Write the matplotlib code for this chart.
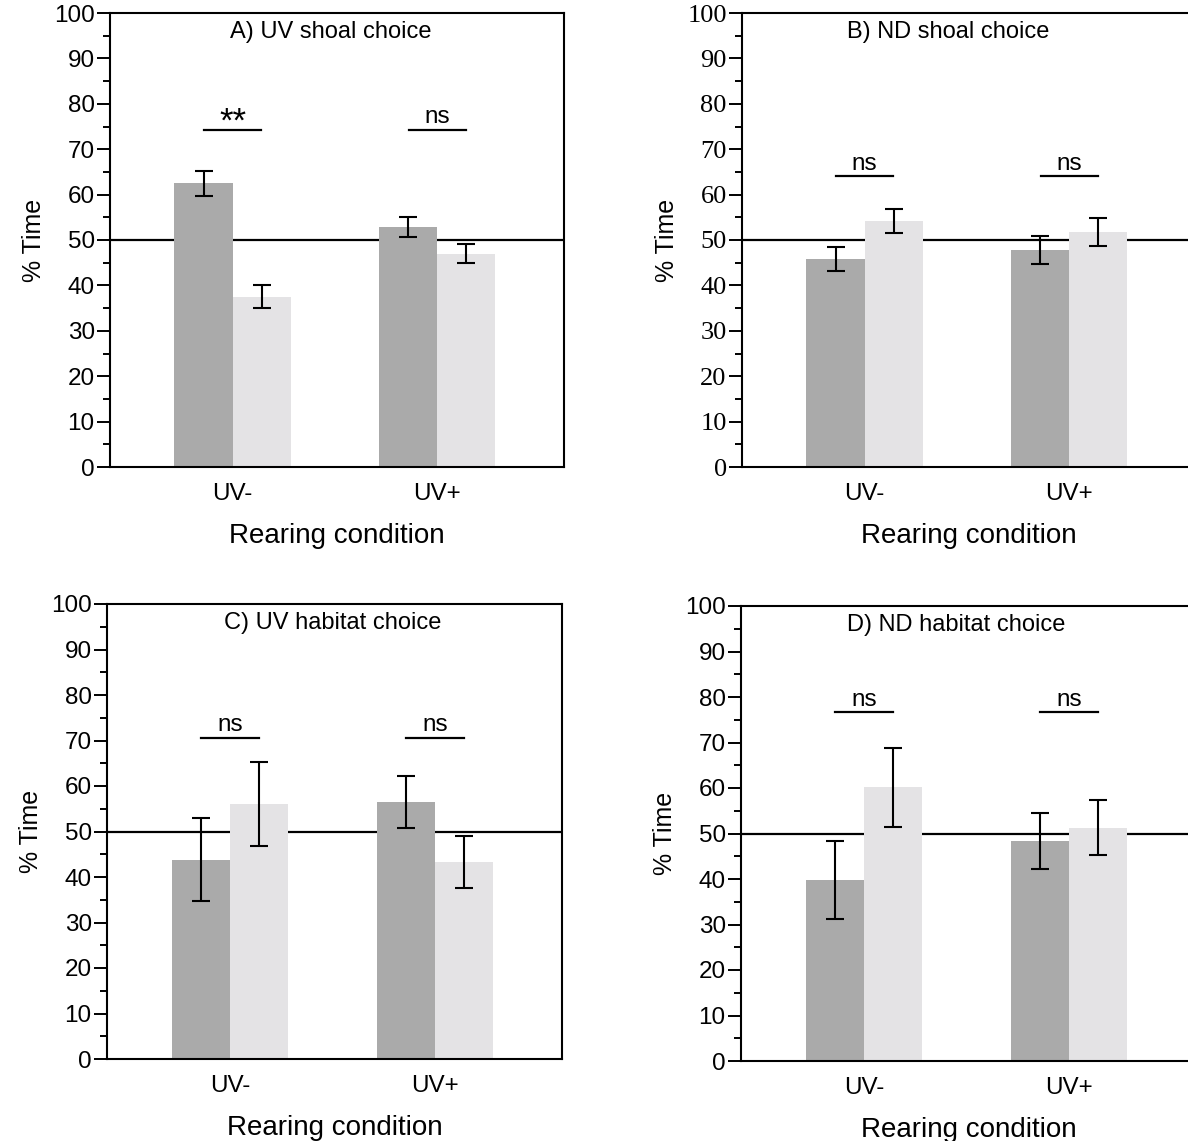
import matplotlib
matplotlib.use('Agg')
import matplotlib.pyplot as plt
import numpy as np

groups = ['UV-', 'UV+']
titles = ['A) UV shoal choice', 'B) ND shoal choice', 'C) UV habitat choice', 'D) ND habitat choice']

## dark bars (first stimulus) and light bars (second stimulus), % time
dark_A = [62.5, 52.8]
dark_A_err = [2.7, 2.2]
light_A = [37.5, 47.0]
light_A_err = [2.5, 2.1]

dark_B = [45.8, 47.8]
dark_B_err = [2.6, 3.0]
light_B = [54.2, 51.8]
light_B_err = [2.7, 3.1]

dark_C = [43.8, 56.5]
dark_C_err = [9.1, 5.8]
light_C = [56.0, 43.3]
light_C_err = [9.2, 5.8]

dark_D = [39.7, 48.3]
dark_D_err = [8.6, 6.1]
light_D = [60.2, 51.3]
light_D_err = [8.7, 6.0]

sig_A = ['**', 'ns']
sig_B = ['ns', 'ns']
sig_C = ['ns', 'ns']
sig_D = ['ns', 'ns']
sig_y = [74.2, 64.0, 70.6, 76.6]

title_x = [0.48, 0.41, 0.50, 0.45]

W, H = 1188, 1141
fig = plt.figure(figsize=(W / 100, H / 100), dpi=100)

## axes boxes in pixels: left, top, bottom, width
boxes = [(110, 13, 467, 454), (742, 13, 467, 454),
         (107, 604, 1059, 455), (741, 606, 1061, 455)]

data = [(dark_A, dark_A_err, light_A, light_A_err, sig_A),
        (dark_B, dark_B_err, light_B, light_B_err, sig_B),
        (dark_C, dark_C_err, light_C, light_C_err, sig_C),
        (dark_D, dark_D_err, light_D, light_D_err, sig_D)]

sans = 'Liberation Sans'
serif = 'Liberation Serif'
bw = 0.285
x = np.arange(len(groups))

for i, (box, d) in enumerate(zip(boxes, data)):
    l, t, b, w = box
    ax = fig.add_axes([l / W, 1 - b / H, w / W, (b - t) / H])
    dark, dark_err, light, light_err, sig = d

    ax.axhline(50, color='black', lw=1.6, zorder=1)
    ax.bar(x - bw / 2, dark, bw, color='#aaaaaa', zorder=2)
    ax.bar(x + bw / 2, light, bw, color='#e4e3e5', zorder=2)
    ax.errorbar(x - bw / 2, dark, yerr=dark_err, fmt='none', ecolor='black',
                elinewidth=1.5, capsize=6.5, capthick=1.5, zorder=3)
    ax.errorbar(x + bw / 2, light, yerr=light_err, fmt='none', ecolor='black',
                elinewidth=1.5, capsize=6.5, capthick=1.5, zorder=3)

    for j, s in enumerate(sig):
        ax.plot([x[j] - 0.14, x[j] + 0.14], [sig_y[i], sig_y[i]], color='black', lw=1.6)
        if s == '**':
            ax.text(x[j], sig_y[i] - 0.4, s, ha='center', va='baseline', fontsize=25, family=sans)
        else:
            ax.text(x[j], sig_y[i] + 1.5, s, ha='center', va='baseline', fontsize=17.5, family=sans)

    ax.text(title_x[i], 95.8, titles[i], ha='center', va='center', fontsize=17, family=sans)

    ax.set_xlim(-0.6, 1.62)
    ax.set_ylim(0, 100)
    ax.set_yticks(np.arange(0, 101, 10))
    ax.set_yticks(np.arange(5, 100, 10), minor=True)
    ax.set_xticks(x)
    ax.set_xticklabels(groups, fontsize=17.5, family=sans)
    ax.tick_params(axis='x', length=0, pad=11.5)
    ax.tick_params(axis='y', which='major', direction='out', length=9.5, width=1.4, pad=1.5)
    ax.tick_params(axis='y', which='minor', direction='out', length=5, width=1.4)
    tick_font = serif if i == 1 else sans
    for lab in ax.get_yticklabels():
        lab.set_fontfamily(tick_font)
        lab.set_fontsize(19 if i == 1 else 17.5)
    for sp in ax.spines.values():
        sp.set_linewidth(1.5)

    ax.set_ylabel('% Time', fontsize=18, family=sans, labelpad=6)
    ax.set_xlabel('Rearing condition', fontsize=20, family=sans, labelpad=13)

fig.savefig('out.png', dpi=100)
